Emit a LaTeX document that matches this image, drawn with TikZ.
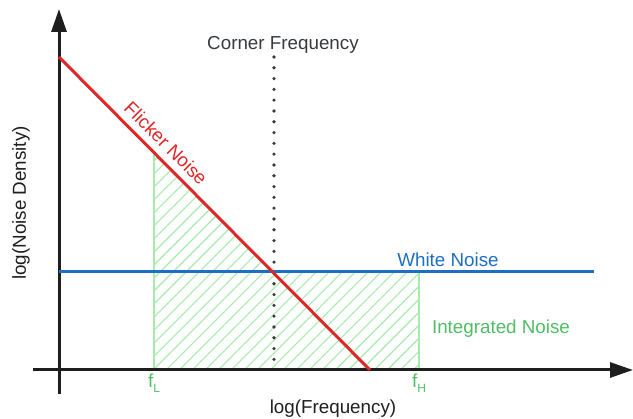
\documentclass[tikz,border=0pt]{standalone}
\usepackage{fontspec}
\setmainfont{Liberation Sans}
\usetikzlibrary{arrows.meta,patterns.meta}
\definecolor{fred}{RGB}{220,40,40}
\definecolor{wblue}{RGB}{30,110,195}
\definecolor{gtext}{RGB}{80,190,100}
\definecolor{ghatch}{RGB}{165,235,170}
\definecolor{axis}{RGB}{30,30,30}
\definecolor{ctext}{RGB}{55,58,62}
\tikzset{
  lbl/.style={inner sep=0pt, font=\fontsize{18.8}{22}\selectfont},
  axisline/.style={draw=axis, line width=3pt, -{Triangle[length=23pt,width=15pt]}},
}
\newcommand{\sbs}[1]{\raisebox{-0.45ex}{\fontsize{12}{12}\selectfont #1}}
\begin{document}
\begin{tikzpicture}[x=1pt,y=-1pt]
\useasboundingbox (0,0) rectangle (633,419);
% key points
\coordinate (A) at (59,57);    % flicker start
\coordinate (B) at (370,370);  % flicker end
\coordinate (C) at (274,272);  % corner
\coordinate (W0) at (59,272);
\coordinate (W1) at (594,272);
\coordinate (L0) at (154,370);
\coordinate (L1) at (154,152);
\coordinate (H0) at (419,370);
\coordinate (H1) at (419,272);
\coordinate (D0) at (274,57);
\coordinate (D1) at (274,369);
\coordinate (X0) at (33,370);
\coordinate (X1) at (633,370);
\coordinate (Y0) at (59,394);
\coordinate (Y1) at (59,9);
% hatch
\fill[pattern={Lines[angle=45,distance=9.2pt,line width=1.1pt]}, pattern color=ghatch]
  (L0) -- (L1) -- (C) -- (H1) -- (H0) -- cycle;
\draw[ghatch, line width=2.8pt] (L0) -- (L1);
\draw[ghatch, line width=2.8pt] (H0) -- (H1);
% dotted corner line
\draw[ctext, line width=3.6pt, line cap=round, dash pattern=on 0pt off 10.8pt] (D0) -- (D1);
% axes
\draw[axisline] (X0) -- (X1);
\draw[axisline] (Y0) -- (Y1);
% curves
\draw[wblue, line width=3pt] (W0) -- (W1);
\draw[fred, line width=3pt] (A) -- (B);
% labels
\node[lbl, text=ctext] (corner) at (283,45) {Corner Frequency};
\node[lbl, text=fred, rotate=-45] (flicker) at (166,143) {Flicker Noise};
\node[lbl, text=wblue] (white) at (448,260) {White Noise};
\node[lbl, text=gtext] (integ) at (501,329) {Integrated Noise};
\node[lbl, text=gtext, anchor=base west] (fL) at (148,388) {f\sbs{L}};
\node[lbl, text=gtext, anchor=base west] (fH) at (412,388) {f\sbs{H}};
\node[lbl, text=axis] (xlab) at (333,409) {log(Frequency)};
\node[lbl, text=axis, rotate=90] (ylab) at (21,203) {log(Noise Density)};
\end{tikzpicture}
\end{document}
